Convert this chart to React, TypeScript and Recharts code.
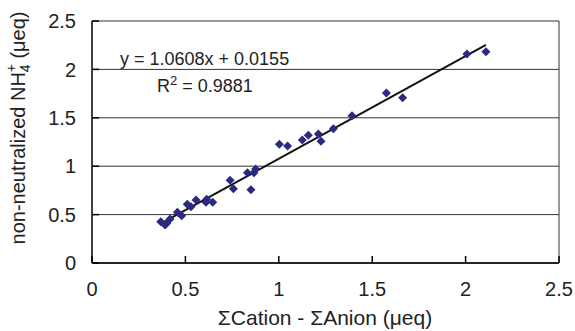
import {
  ScatterChart,
  Scatter,
  XAxis,
  YAxis,
  CartesianGrid,
  ReferenceLine,
} from "recharts";

const xValues = [
  0.368, 0.391, 0.4, 0.418, 0.457, 0.48, 0.51, 0.53, 0.557, 0.61, 0.614, 0.646,
  0.739, 0.757, 0.832, 0.851, 0.867, 0.876, 1.003, 1.047, 1.126, 1.158, 1.212,
  1.226, 1.292, 1.392, 1.576, 1.663, 2.007, 2.109,
];
const yValues = [
  0.427, 0.393, 0.41, 0.455, 0.523, 0.489, 0.606, 0.582, 0.651, 0.627, 0.658,
  0.627, 0.854, 0.768, 0.933, 0.758, 0.933, 0.971, 1.226, 1.209, 1.271, 1.319,
  1.333, 1.257, 1.388, 1.522, 1.756, 1.708, 2.159, 2.183,
];
const ticks = [0, 0.5, 1, 1.5, 2, 2.5];
const slope = 1.0608;
const intercept = 0.0155;
const equationText = "y = 1.0608x + 0.0155";
const r2Text = " = 0.9881";
const xLabel = "ΣCation - ΣAnion (μeq)";

const points = xValues.map((x, i) => ({ x, y: yValues[i] }));
const trendStart = Math.min(...xValues);
const trendEnd = Math.max(...xValues);

const FONT = '"Liberation Sans", Arial, sans-serif';
const MARK = "#2a2a82";

function Diamond(props: any) {
  const { cx, cy } = props;
  const r = 4.5;
  return (
    <polygon
      points={`${cx},${cy - r} ${cx + r},${cy} ${cx},${cy + r} ${cx - r},${cy}`}
      fill={MARK}
    />
  );
}

export default function App() {
  return (
    <div style={{ position: "absolute", left: 0, top: 0, width: 575, height: 331, fontFamily: FONT, background: "#fff" }}>
      <ScatterChart
        width={575}
        height={331}
        margin={{ top: 21, right: 16, bottom: 0, left: 0 }}
      >
        <CartesianGrid vertical={false} stroke="#333" />
        <XAxis
          type="number"
          dataKey="x"
          domain={[0, 2.5]}
          ticks={ticks}
          height={68}
          tickSize={-7}
          tickMargin={26}
          stroke="#000"
          strokeWidth={1.5}
          tick={{ fill: "#222", fontSize: 20, fontFamily: FONT }}
          allowDataOverflow
        />
        <YAxis
          type="number"
          dataKey="y"
          domain={[0, 2.5]}
          ticks={ticks}
          width={92}
          tickSize={-7}
          tickMargin={23}
          stroke="#000"
          strokeWidth={1.5}
          tick={{ fill: "#222", fontSize: 20, fontFamily: FONT }}
          allowDataOverflow
        />
        <ReferenceLine x={2.5} stroke="#333" />
        <ReferenceLine
          segment={[
            { x: trendStart, y: slope * trendStart + intercept },
            { x: trendEnd, y: slope * trendEnd + intercept },
          ]}
          stroke="#111"
          strokeWidth={2}
        />
        <Scatter data={points} shape={<Diamond />} isAnimationActive={false} />
      </ScatterChart>
      <svg
        width={575}
        height={331}
        style={{ position: "absolute", left: 0, top: 0, pointerEvents: "none" }}
      >
        <text x={120} y={65} fontSize={18} fill="#222" fontFamily={FONT}>
          {equationText}
        </text>
        <text x={157} y={92} fontSize={18} fill="#222" fontFamily={FONT}>
          R<tspan dy={-7} fontSize={13}>2</tspan>
          <tspan dy={7}>{r2Text}</tspan>
        </text>
        <text
          x={0}
          y={0}
          transform="translate(25,128) rotate(-90)"
          textAnchor="middle"
          fontSize={20}
          fill="#222"
          fontFamily={FONT}
        >
          non-neutralized NH
          <tspan dy={5} fontSize={14}>4</tspan>
          <tspan dy={-14} dx={-8} fontSize={14}>+</tspan>
          <tspan dy={9}> (μeq)</tspan>
        </text>
        <text
          x={325}
          y={325}
          textAnchor="middle"
          fontSize={21}
          fill="#222"
          fontFamily={FONT}
        >
          {xLabel}
        </text>
      </svg>
    </div>
  );
}
